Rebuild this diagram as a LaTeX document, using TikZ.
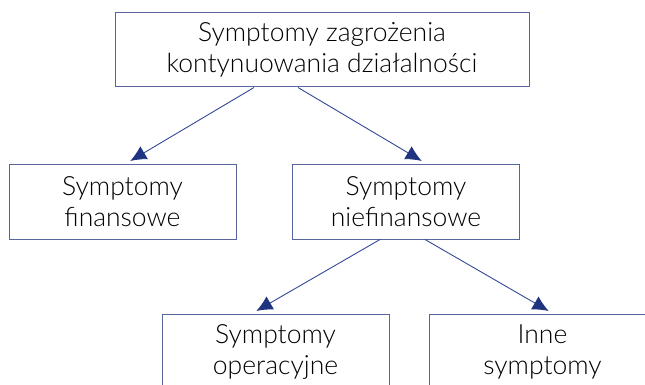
\documentclass[tikz,border=0pt]{standalone}
\usepackage{fontspec}
\setmainfont{Lato Light}
\usetikzlibrary{arrows.meta}

\definecolor{boxline}{RGB}{88,100,158}
\definecolor{arrowline}{RGB}{52,72,150}
\definecolor{arrowhead}{RGB}{30,52,128}

\begin{document}
\begin{tikzpicture}[x=1pt,y=-1pt,
  symbox/.style={draw=boxline,line width=1pt,inner sep=0pt,
    minimum width=227pt,minimum height=75pt,align=center,
    font=\fontsize{26.5}{31}\selectfont},
  link/.style={draw=arrowline,line width=0.9pt,shorten >=5pt,
    -{Latex[length=16pt,width=15pt,color=arrowhead]}}]
\useasboundingbox (0,0) rectangle (645,385);
\clip (0,0) rectangle (645,385);
% boxes
\node[symbox,minimum width=414pt,minimum height=74pt] (top) at (322,50)
  {Symptomy zagrożenia\\kontynuowania działalności};
\node[symbox] (fin) at (122.5,201.5) {Symptomy\\finansowe};
\node[symbox] (nonfin) at (406,201.5) {Symptomy\\niefinansowe};
\node[symbox] (oper) at (275.5,351.5) {Symptomy\\operacyjne};
\node[symbox] (other) at (542.5,351.5) {Inne\\symptomy};
% arrows
\draw[link] ([xshift=-68pt]top.south) -- ([xshift=3.5pt]fin.north);
\draw[link] ([xshift=-24pt]top.south) -- ([xshift=20pt]nonfin.north);
\draw[link] ([xshift=-26pt]nonfin.south) -- ([xshift=-23.5pt]oper.north);
\draw[link] ([xshift=19pt]nonfin.south) -- ([xshift=10.5pt]other.north);
\end{tikzpicture}
\end{document}
